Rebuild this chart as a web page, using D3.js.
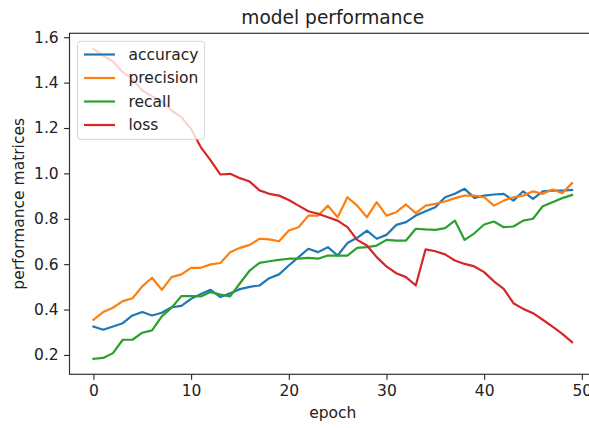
<!DOCTYPE html>
<html>
<head>
<meta charset="utf-8">
<script src="https://cdn.jsdelivr.net/npm/d3@7"></script>
<style>
  html, body { margin: 0; padding: 0; background: #fff; }
  svg { display: block; font-family: "DejaVu Sans", sans-serif; }
</style>
</head>
<body>
<svg id="chart" width="589" height="428"></svg>
<script>
// Per-epoch training metrics
const epochs = d3.range(50);
const accuracy = [0.325, 0.311, 0.325, 0.340, 0.374, 0.389, 0.374, 0.386, 0.410, 0.416,
  0.447, 0.469, 0.487, 0.455, 0.472, 0.490, 0.500, 0.506, 0.538, 0.555,
  0.594, 0.631, 0.668, 0.653, 0.675, 0.638, 0.693, 0.716, 0.748, 0.712,
  0.729, 0.773, 0.785, 0.814, 0.833, 0.851, 0.895, 0.910, 0.932, 0.892,
  0.902, 0.907, 0.910, 0.880, 0.921, 0.888, 0.921, 0.924, 0.924, 0.927];
const precision = [0.355, 0.389, 0.408, 0.437, 0.450, 0.502, 0.540, 0.487, 0.543, 0.555,
  0.584, 0.584, 0.599, 0.605, 0.653, 0.672, 0.685, 0.712, 0.709, 0.701,
  0.748, 0.763, 0.814, 0.814, 0.858, 0.807, 0.895, 0.858, 0.807, 0.873,
  0.814, 0.829, 0.863, 0.825, 0.858, 0.866, 0.876, 0.891, 0.902, 0.902,
  0.895, 0.858, 0.880, 0.895, 0.902, 0.921, 0.910, 0.929, 0.913, 0.957];
const recall = [0.183, 0.187, 0.208, 0.267, 0.267, 0.298, 0.308, 0.370, 0.408, 0.459,
  0.459, 0.458, 0.477, 0.466, 0.458, 0.516, 0.572, 0.606, 0.613, 0.619,
  0.624, 0.624, 0.628, 0.624, 0.638, 0.638, 0.638, 0.672, 0.675, 0.682,
  0.707, 0.704, 0.704, 0.756, 0.753, 0.751, 0.759, 0.792, 0.707, 0.736,
  0.775, 0.788, 0.763, 0.766, 0.792, 0.800, 0.855, 0.873, 0.891, 0.905];
const loss = [1.549, 1.519, 1.493, 1.446, 1.416, 1.365, 1.340, 1.317, 1.277, 1.248,
  1.196, 1.115, 1.057, 0.995, 0.998, 0.979, 0.964, 0.925, 0.910, 0.902,
  0.883, 0.858, 0.833, 0.822, 0.807, 0.792, 0.763, 0.707, 0.682, 0.631,
  0.590, 0.560, 0.543, 0.506, 0.665, 0.657, 0.643, 0.616, 0.601, 0.590,
  0.565, 0.524, 0.491, 0.428, 0.403, 0.384, 0.355, 0.325, 0.293, 0.256];

const seriesNames = ["accuracy", "precision", "recall", "loss"];
const seriesValues = [accuracy, precision, recall, loss];
const seriesColors = ["#1f77b4", "#ff7f0e", "#2ca02c", "#d62728"];
const xTicks = [0, 10, 20, 30, 40, 50];
const yTicks = [0.2, 0.4, 0.6, 0.8, 1.0, 1.2, 1.4, 1.6];

const svg = d3.select("#chart");
const plotLeft = 69.5, plotRight = 596, plotTop = 33.3, plotBottom = 374.3;
const fs = 15.5;

// 5% padding around the data, like the plotting library's autoscale
const xPad = (epochs[epochs.length - 1] - epochs[0]) * 0.05;
const allVals = seriesValues.flat();
const yMin = d3.min(allVals), yMax = d3.max(allVals);
const yPad = (yMax - yMin) * 0.05;

const x = d3.scaleLinear().domain([epochs[0] - xPad, epochs[epochs.length - 1] + xPad]).range([plotLeft, plotRight]);
const y = d3.scaleLinear().domain([yMin - yPad, yMax + yPad]).range([plotBottom, plotTop]);

// axes
const xAxis = d3.axisBottom(x).tickValues(xTicks).tickFormat(d3.format("d")).tickSize(5.4).tickPadding(5);
const yAxis = d3.axisLeft(y).tickValues(yTicks).tickFormat(d3.format(".1f")).tickSize(5.4).tickPadding(5.4);

const gx = svg.append("g").attr("transform", `translate(0,${plotBottom})`).call(xAxis);
const gy = svg.append("g").attr("transform", `translate(${plotLeft},0)`).call(yAxis);
[gx, gy].forEach(g => {
  g.select(".domain").remove();
  g.selectAll(".tick line").attr("stroke", "#222").attr("stroke-width", 1.1);
  g.selectAll(".tick text").attr("fill", "#222").style("font-size", fs + "px")
    .style("font-family", "DejaVu Sans, sans-serif");
});
gx.selectAll(".tick text").attr("dy", "0.72em");

// series lines
const line = d3.line().x((d, i) => x(epochs[i])).y(d => y(d));
const plot = svg.append("g");
seriesValues.forEach((vals, k) => {
  plot.append("path")
    .datum(vals)
    .attr("d", line)
    .attr("fill", "none")
    .attr("stroke", seriesColors[k])
    .attr("stroke-width", 2.2)
    .attr("stroke-linejoin", "round")
    .attr("stroke-linecap", "square");
});

// frame
svg.append("rect")
  .attr("x", plotLeft).attr("y", plotTop)
  .attr("width", plotRight - plotLeft).attr("height", plotBottom - plotTop)
  .attr("fill", "none").attr("stroke", "#333").attr("stroke-width", 1.2);

// legend
const lg = svg.append("g");
lg.append("rect")
  .attr("x", 77.5).attr("y", 41.3).attr("width", 127).attr("height", 98)
  .attr("rx", 3).attr("fill", "#fff").attr("fill-opacity", 0.8)
  .attr("stroke", "#ccc").attr("stroke-opacity", 0.8).attr("stroke-width", 1);
seriesNames.forEach((name, k) => {
  const cy = 54.5 + k * 23.5;
  lg.append("line")
    .attr("x1", 84).attr("x2", 115).attr("y1", cy).attr("y2", cy)
    .attr("stroke", seriesColors[k]).attr("stroke-width", 2.2);
  lg.append("text")
    .attr("x", 128.5).attr("y", cy).attr("dy", "0.35em")
    .attr("fill", "#222").style("font-size", fs + "px").text(name);
});

// title and axis labels
svg.append("text")
  .attr("x", (plotLeft + plotRight) / 2).attr("y", 24)
  .attr("text-anchor", "middle").attr("fill", "#222")
  .style("font-size", "18.6px").text("model performance");
svg.append("text")
  .attr("x", (plotLeft + plotRight) / 2).attr("y", 418)
  .attr("text-anchor", "middle").attr("fill", "#222")
  .style("font-size", fs + "px").text("epoch");
svg.append("text")
  .attr("transform", `translate(24,${(plotTop + plotBottom) / 2}) rotate(-90)`)
  .attr("text-anchor", "middle").attr("fill", "#222")
  .style("font-size", fs + "px").text("performance matrices");
</script>
</body>
</html>
